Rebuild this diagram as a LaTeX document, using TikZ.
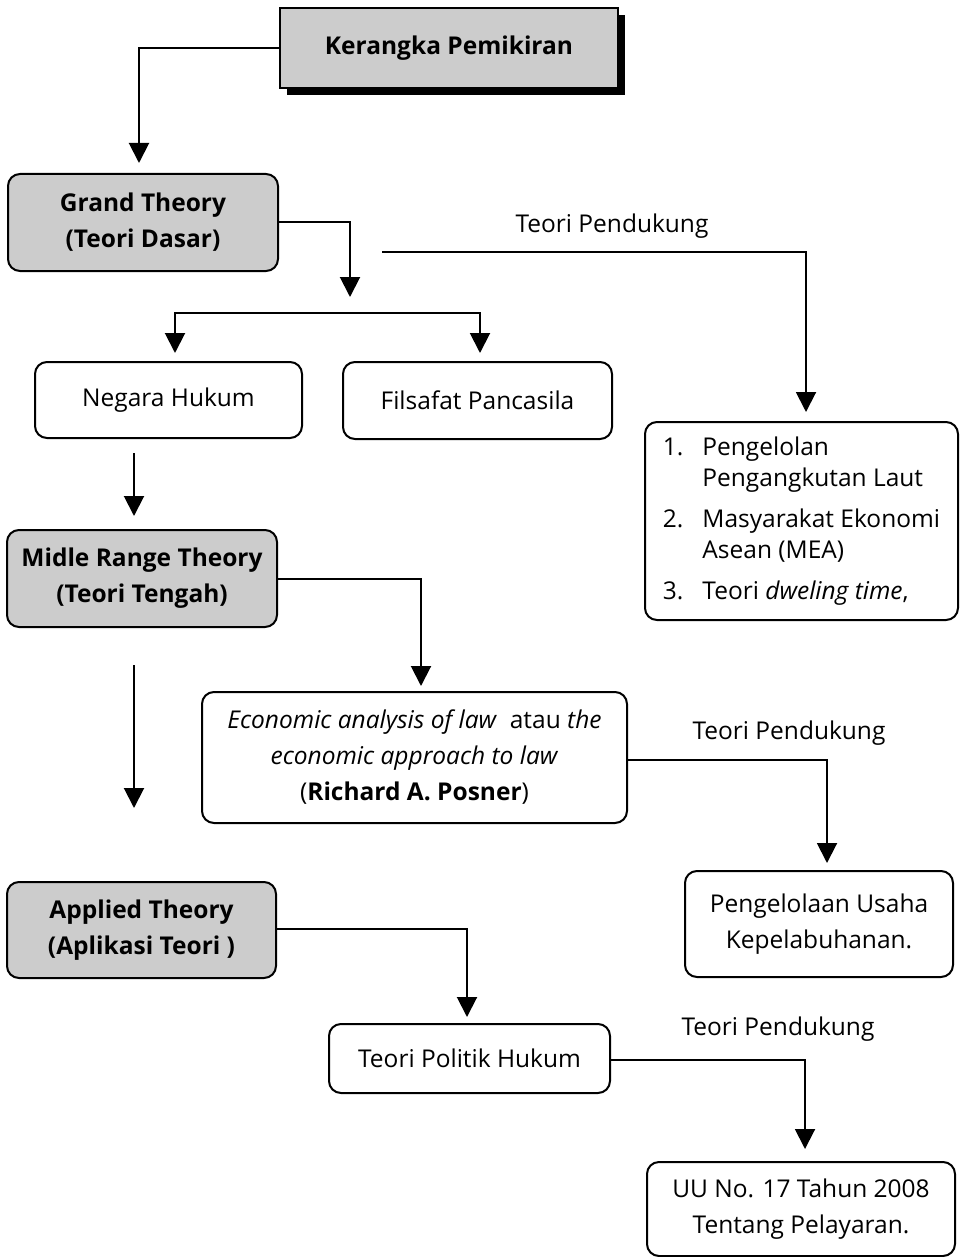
\documentclass[tikz,border=0pt]{standalone}
\usepackage{fontspec}
\setmainfont{Open Sans}
\usetikzlibrary{arrows.meta,shadows,calc}
\definecolor{boxgray}{gray}{0.8}

\begin{document}
\begin{tikzpicture}[x=1pt,y=-1pt,
  font=\fontsize{24.5}{36}\selectfont,
  every node/.style={inner sep=0pt, outer sep=0pt},
  base/.style={draw=black, line width=2pt, align=center},
  graybox/.style={base, fill=boxgray, rounded corners=12pt},
  whitebox/.style={base, fill=white, rounded corners=12pt},
  titlebox/.style={base, fill=boxgray,
    drop shadow={shadow xshift=7pt, shadow yshift=-7pt, fill=black, opacity=1}},
  lbl/.style={align=center},
  arr/.style={line width=2pt, -{Triangle[width=20pt,length=20pt]}}
]
\useasboundingbox (0,0) rectangle (963,1257);

% boxes
\node[titlebox, minimum width=338, minimum height=80] (kp) at (449,48)
  {\textbf{Kerangka Pemikiran}};
\node[graybox, minimum width=270, minimum height=97] (gt) at (143,222.5)
  {\fontsize{24.5}{38}\selectfont\textbf{Grand Theory}\\\textbf{(Teori Dasar)}};
\node[whitebox, minimum width=267, minimum height=76] (nh) at (168.5,400)
  {Negara Hukum};
\node[whitebox, minimum width=269, minimum height=77] (fp) at (477.5,400.5)
  {Filsafat Pancasila};
\node[whitebox, minimum width=313, minimum height=198] (list) at (801.5,521) {%
  \fontsize{24.5}{31}\selectfont
  \begin{tabular}{@{}l@{\hspace{19pt}}l@{}}
  1. & Pengelolan\\
     & Pengangkutan Laut\\[10pt]
  2. & Masyarakat Ekonomi\\
     & Asean (MEA)\\[10pt]
  3. & Teori \textit{dweling time},
  \end{tabular}};
\node[graybox, minimum width=270, minimum height=97] (mr) at (142,578.5)
  {\fontsize{24.5}{35}\selectfont\textbf{Midle Range Theory}\\\textbf{(Teori Tengah)}};
\node[whitebox, minimum width=425, minimum height=131] (ec) at (414.5,757.5)
  {\fontsize{24.5}{34.5}\selectfont\textit{Economic analysis of law}\ \ atau \textit{the}\\
   \textit{economic approach to law}\\(\textbf{Richard A. Posner})};
\node[whitebox, minimum width=268, minimum height=106] (pu) at (819,924)
  {\fontsize{24.5}{37}\selectfont Pengelolaan Usaha\\Kepelabuhanan.};
\node[graybox, minimum width=269, minimum height=96] (at) at (141.5,930)
  {\fontsize{24.5}{37}\selectfont\textbf{Applied Theory}\\\textbf{(Aplikasi Teori )}};
\node[whitebox, minimum width=281, minimum height=69] (tp) at (469.5,1058.5)
  {Teori Politik Hukum};
\node[whitebox, minimum width=308, minimum height=94] (uu) at (801,1209)
  {\fontsize{24.5}{33}\selectfont UU No. 17 Tahun 2008\\Tentang Pelayaran.};

% labels
\node[lbl] (l1) at (612,226) {Teori Pendukung};
\node[lbl] (l2) at (789,733) {Teori Pendukung};
\node[lbl] (l3) at (778,1029) {Teori Pendukung};

% helper points
\coordinate (split) at (350,313);
\coordinate (bl) at (175,313);
\coordinate (br) at (480,313);
\coordinate (tpstart) at (382,252);
\coordinate (c1) at ([xshift=-8pt]mr.north);
\coordinate (c2) at ([xshift=-7.5pt]at.north);

% connectors
\draw[arr, shorten >=11pt] (kp.west) -| ([xshift=-4pt]gt.north);
\draw[arr, shorten >=16pt] (gt.east) -| (split);
\draw[arr, shorten >=9pt] (split) -| (bl |- nh.north);
\draw[arr, shorten >=9pt] (split) -| (br |- fp.north);
\draw[arr, shorten >=10pt] (tpstart) -| ([xshift=4.5pt]list.north);
\draw[arr, shorten <=15pt, shorten >=14pt] (nh.south -| c1) -- (c1);
\draw[arr, shorten >=6pt] (mr.east) -| ([xshift=6.5pt]ec.north);
\draw[arr, shorten <=38pt, shorten >=74pt] (mr.south -| c2) -- (c2);
\draw[arr, shorten >=8pt] ([yshift=-2.5pt]ec.east) -| ([xshift=8pt]pu.north);
\draw[arr, shorten >=7pt] ([yshift=1pt]at.east) -| ([xshift=-2.5pt]tp.north);
\draw[arr, shorten >=13pt] ([yshift=-1.5pt]tp.east) -| ([xshift=4pt]uu.north);
\end{tikzpicture}
\end{document}
